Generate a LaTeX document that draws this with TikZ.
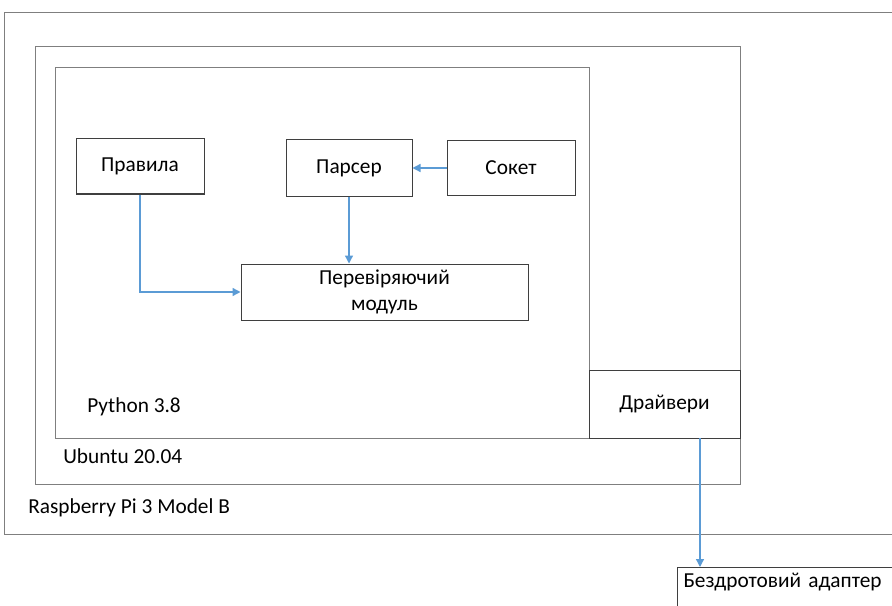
\documentclass[tikz,border=0pt]{standalone}
\usepackage{fontspec}
\setmainfont{Carlito}
\usetikzlibrary{arrows.meta,positioning}
\definecolor{frame}{HTML}{7F7F7F}
\definecolor{edge}{HTML}{3F3F3F}
\definecolor{link}{HTML}{5B9BD5}

\begin{document}
\begin{tikzpicture}[x=0.75pt,y=-0.75pt,
  font=\fontsize{16}{20}\selectfont,
  bx/.style={draw=edge,line width=0.75pt,align=center,inner sep=0pt},
  cont/.style={draw=frame,line width=0.75pt},
  lbl/.style={anchor=base west,inner sep=0pt},
  arr/.style={-{Triangle[length=6pt,width=6pt]},link,line width=1pt}]
\useasboundingbox (0,0) rectangle (892,606);
\clip (0,0) rectangle (892,606);
% nested layers
\draw[cont] (4,13) rectangle (910,534);
\draw[cont] (35,47) rectangle (740,484);
\draw[cont] (55,68) rectangle (589,438);
\node[lbl] (rpi) at (28,513) {Raspberry Pi 3 Model B};
\node[lbl] (ubuntu) at (63,463) {Ubuntu 20.04};
\node[lbl] (python) at (87,412) {Python 3.8};
% modules
\node[bx,minimum width=96pt,minimum height=41.25pt] (rules) at (140,166.5) {Правила};
\node[bx,minimum width=94.5pt,minimum height=42pt] (parser) at (349,168) {Парсер};
\node[bx,minimum width=96pt,minimum height=41.25pt] (socket) at (511,168) {Сокет};
\node[bx,minimum width=215.25pt,minimum height=42pt] (check) at (384.5,292) {Перевіряючий\\модуль};
\node[bx,minimum width=113.25pt,minimum height=51pt] (drivers) at (664.5,404) {Драйвери};
\node[bx,anchor=north west,align=left,inner sep=4.5pt,text depth=40pt,
      text width=230pt] (adapter) at (677,567) {Бездротовий адаптер};
\coordinate (tap) at (700,438);
% links
\draw[arr] (rules.south) |- (check.west);
\draw[arr] (parser.south) -- (check.north -| parser.south);
\draw[arr] (socket.west) -- (parser.east);
\draw[arr] (tap) -- (tap |- adapter.north);
\end{tikzpicture}
\end{document}
